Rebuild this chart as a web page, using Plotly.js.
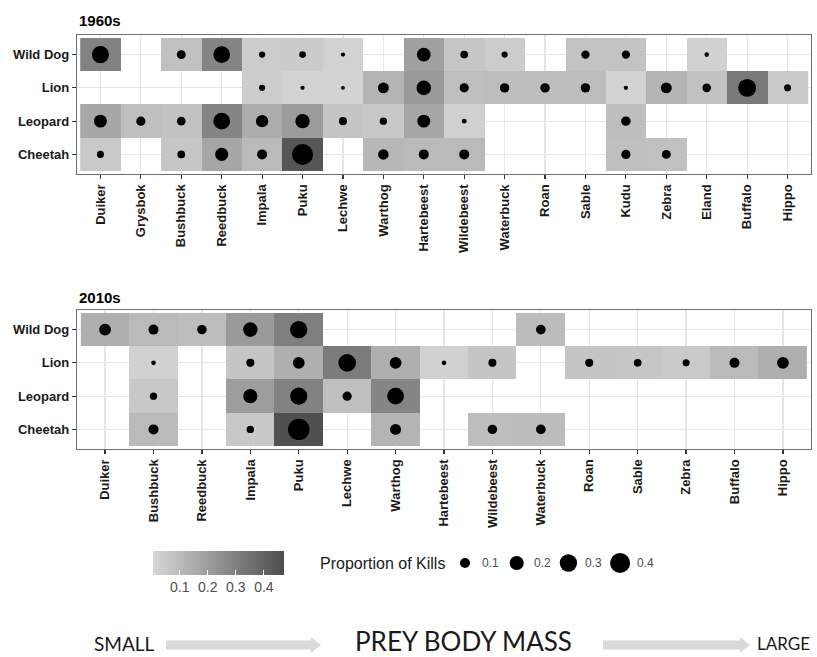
<!DOCTYPE html>
<html>
<head>
<meta charset="utf-8">
<script src="https://cdn.plot.ly/plotly-3.0.1.min.js"></script>
<style>
  html, body { margin: 0; padding: 0; background: #fff; }
  #chart { width: 817px; height: 657px; }
</style>
</head>
<body>
<div id="chart"></div>
<script>
// Prey species, ordered from small to large body mass
const prey1960s = ['Duiker', 'Grysbok', 'Bushbuck', 'Reedbuck', 'Impala', 'Puku', 'Lechwe', 'Warthog',
  'Hartebeest', 'Wildebeest', 'Waterbuck', 'Roan', 'Sable', 'Kudu', 'Zebra', 'Eland', 'Buffalo', 'Hippo'];
const prey2010s = ['Duiker', 'Bushbuck', 'Reedbuck', 'Impala', 'Puku', 'Lechwe', 'Warthog', 'Hartebeest',
  'Wildebeest', 'Waterbuck', 'Roan', 'Sable', 'Zebra', 'Buffalo', 'Hippo'];

const predators = ['Wild Dog', 'Lion', 'Leopard', 'Cheetah'];

// Proportion of kills per predator (null = no kills recorded)
const wildDog1960s = [0.29, null, 0.08, 0.28, 0.04, 0.045, 0.02, null, 0.19, 0.06, 0.04, null, 0.07, 0.07, null, 0.022, null, null];
const lion1960s    = [null, null, null, null, 0.04, 0.02, 0.017, 0.12, 0.21, 0.085, 0.09, 0.09, 0.09, 0.02, 0.12, 0.075, 0.32, 0.05];
const leopard1960s = [0.165, 0.085, 0.075, 0.28, 0.15, 0.205, 0.065, 0.055, 0.165, 0.025, null, null, null, 0.09, null, null, null, null];
const cheetah1960s = [0.05, null, 0.06, 0.17, 0.1, 0.44, null, 0.11, 0.1, 0.1, null, null, null, 0.085, 0.08, null, null, null];

const wildDog2010s = [0.14, 0.1, 0.09, 0.21, 0.3, null, null, null, null, 0.095, null, null, null, null, null];
const lion2010s    = [null, 0.022, null, 0.065, 0.14, 0.31, 0.14, 0.022, 0.065, null, 0.065, 0.06, 0.05, 0.1, 0.14];
const leopard2010s = [null, 0.055, null, 0.2, 0.29, 0.085, 0.28, null, null, null, null, null, null, null, null];
const cheetah2010s = [null, 0.1, null, 0.055, 0.46, null, 0.12, null, 0.09, 0.095, null, null, null, null, null];

const legendValues = [0.1, 0.2, 0.3, 0.4];
const legendLabels = ['0.1', '0.2', '0.3', '0.4'];

// ---- scales shared by both panels ----
const vMin = 0.003, vMax = 0.47;
const grayScale = [[0, '#d7d7d7'], [1, '#4d4d4d']];
function dotSize(v) {
  return 0.2 + 21.5 * Math.sqrt(Math.max(v - vMin, 0) / (vMax - vMin));
}

const W = 817, H = 657;
const px = x => x / W;
const py = y => 1 - y / H;

function panelTraces(prey, rows, xa, ya, showScale) {
  const tile = {
    type: 'heatmap',
    x: prey, y: predators, z: rows,
    xaxis: xa, yaxis: ya,
    colorscale: grayScale, zmin: vMin, zmax: vMax,
    showscale: showScale, hoverinfo: 'skip', xgap: 0, ygap: 0
  };
  if (showScale) {
    tile.colorbar = {
      orientation: 'h',
      x: px(218), xanchor: 'center',
      y: py(551), yanchor: 'top',
      len: 131, lenmode: 'pixels',
      thickness: 24, thicknessmode: 'pixels',
      xpad: 0, ypad: 0, outlinewidth: 0,
      tickvals: legendValues, ticktext: legendLabels,
      ticks: 'inside', ticklen: 5, tickcolor: '#ffffff', tickwidth: 1,
      tickfont: { family: 'Liberation Sans, Arial, sans-serif', size: 14, color: '#4d4d4d' }
    };
  }
  const dx = [], dy = [], ds = [];
  rows.forEach((row, r) => row.forEach((v, c) => {
    if (v !== null) { dx.push(prey[c]); dy.push(predators[r]); ds.push(dotSize(v)); }
  }));
  const dots = {
    type: 'scatter', mode: 'markers',
    x: dx, y: dy, xaxis: xa, yaxis: ya,
    marker: { color: '#000000', opacity: 1, size: ds, line: { width: 0 } },
    hoverinfo: 'skip', showlegend: false
  };
  return [tile, dots];
}

const data = [
  ...panelTraces(prey1960s, [wildDog1960s, lion1960s, leopard1960s, cheetah1960s], 'x', 'y', false),
  ...panelTraces(prey2010s, [wildDog2010s, lion2010s, leopard2010s, cheetah2010s], 'x2', 'y2', true)
];

// size legend keys on a pixel-scaled overlay axis
const legendX = legendValues.map((v, i) => 465 + i * 51.7);
data.push({
  type: 'scatter', mode: 'markers', xaxis: 'x3', yaxis: 'y3',
  x: legendX, y: legendValues.map(() => 563),
  marker: { color: '#000000', opacity: 1, size: legendValues.map(dotSize), line: { width: 0 } },
  hoverinfo: 'skip', showlegend: false
});

const tickFont = { family: 'Liberation Sans, Arial, sans-serif', size: 13, color: '#1a1a1a', weight: 'bold' };
function xAxis(prey, anchor) {
  const n = prey.length;
  return {
    domain: [px(77), px(811)], anchor: anchor,
    type: 'category', categoryorder: 'array', categoryarray: prey,
    range: [-0.58, n - 1 + 0.58], autorange: false,
    showgrid: true, gridcolor: '#e6e6e6', gridwidth: 1.2,
    showline: true, mirror: true, linecolor: '#6e6e6e', linewidth: 1.2,
    ticks: 'outside', ticklen: 4, tickcolor: '#333333', tickwidth: 1.2,
    tickangle: -90, tickfont: tickFont, zeroline: false, fixedrange: true
  };
}
function yAxis(top, bottom, anchor) {
  return {
    domain: [py(bottom), py(top)], anchor: anchor,
    type: 'category', categoryorder: 'array', categoryarray: ['Cheetah', 'Leopard', 'Lion', 'Wild Dog'],
    range: [-0.59, 3.59], autorange: false,
    showgrid: true, gridcolor: '#e6e6e6', gridwidth: 1.2,
    showline: true, mirror: true, linecolor: '#6e6e6e', linewidth: 1.2,
    ticks: 'outside', ticklen: 4, tickcolor: '#333333', tickwidth: 1.2,
    tickfont: tickFont, zeroline: false, fixedrange: true
  };
}

function arrowPath(x0, x1, yc) {
  const b = 4.5, h = 8, l = 10;
  return `M ${x0},${yc - b} L ${x1 - l},${yc - b} L ${x1 - l},${yc - h} L ${x1},${yc} ` +
         `L ${x1 - l},${yc + h} L ${x1 - l},${yc + b} L ${x0},${yc + b} Z`;
}

const boldTitle = { family: 'Liberation Sans, Arial, sans-serif', size: 15, color: '#000000', weight: 'bold' };
const massFont = { family: 'Lato, Open Sans, sans-serif', color: '#1a1a1a' };

const annotations = [
  { text: '1960s', xref: 'x3', yref: 'y3', x: 77, y: 20, xanchor: 'left', yanchor: 'middle', showarrow: false, font: boldTitle },
  { text: '2010s', xref: 'x3', yref: 'y3', x: 77, y: 297, xanchor: 'left', yanchor: 'middle', showarrow: false, font: boldTitle },
  { text: 'Proportion of Kills', xref: 'x3', yref: 'y3', x: 318, y: 563, xanchor: 'left', yanchor: 'middle', showarrow: false,
    font: { family: 'Liberation Sans, Arial, sans-serif', size: 16, color: '#1a1a1a' } },
  ...legendLabels.map((t, i) => ({
    text: t, xref: 'x3', yref: 'y3', x: legendX[i] + 15, y: 563, xanchor: 'left', yanchor: 'middle', showarrow: false,
    font: { family: 'Liberation Sans, Arial, sans-serif', size: 12, color: '#4d4d4d' }
  })),
  { text: 'SMALL', xref: 'x3', yref: 'y3', x: 92, y: 643, xanchor: 'left', yanchor: 'middle', showarrow: false,
    font: { ...massFont, size: 19 } },
  { text: 'PREY BODY MASS', xref: 'x3', yref: 'y3', x: 463, y: 641, xanchor: 'center', yanchor: 'middle', showarrow: false,
    font: { ...massFont, size: 26 } },
  { text: 'LARGE', xref: 'x3', yref: 'y3', x: 812, y: 643, xanchor: 'right', yanchor: 'middle', showarrow: false,
    font: { ...massFont, size: 17 } }
];

const shapes = [
  { type: 'path', xref: 'x3', yref: 'y3', path: arrowPath(166, 321, 645), fillcolor: '#d9d9d9', line: { width: 0 } },
  { type: 'path', xref: 'x3', yref: 'y3', path: arrowPath(603, 750, 645), fillcolor: '#d9d9d9', line: { width: 0 } }
];

const layout = {
  width: W, height: H,
  margin: { l: 0, r: 0, t: 0, b: 0 },
  paper_bgcolor: '#ffffff', plot_bgcolor: 'rgba(0,0,0,0)',
  showlegend: false,
  xaxis: xAxis(prey1960s, 'y'),
  yaxis: yAxis(35, 174, 'x'),
  xaxis2: xAxis(prey2010s, 'y2'),
  yaxis2: yAxis(310, 449, 'x2'),
  xaxis3: { domain: [0, 1], range: [0, W], visible: false, anchor: 'y3', fixedrange: true },
  yaxis3: { domain: [0, 1], range: [H, 0], visible: false, anchor: 'x3', fixedrange: true },
  annotations: annotations,
  shapes: shapes
};

Plotly.newPlot('chart', data, layout, { displayModeBar: false, staticPlot: true });
</script>
</body>
</html>
